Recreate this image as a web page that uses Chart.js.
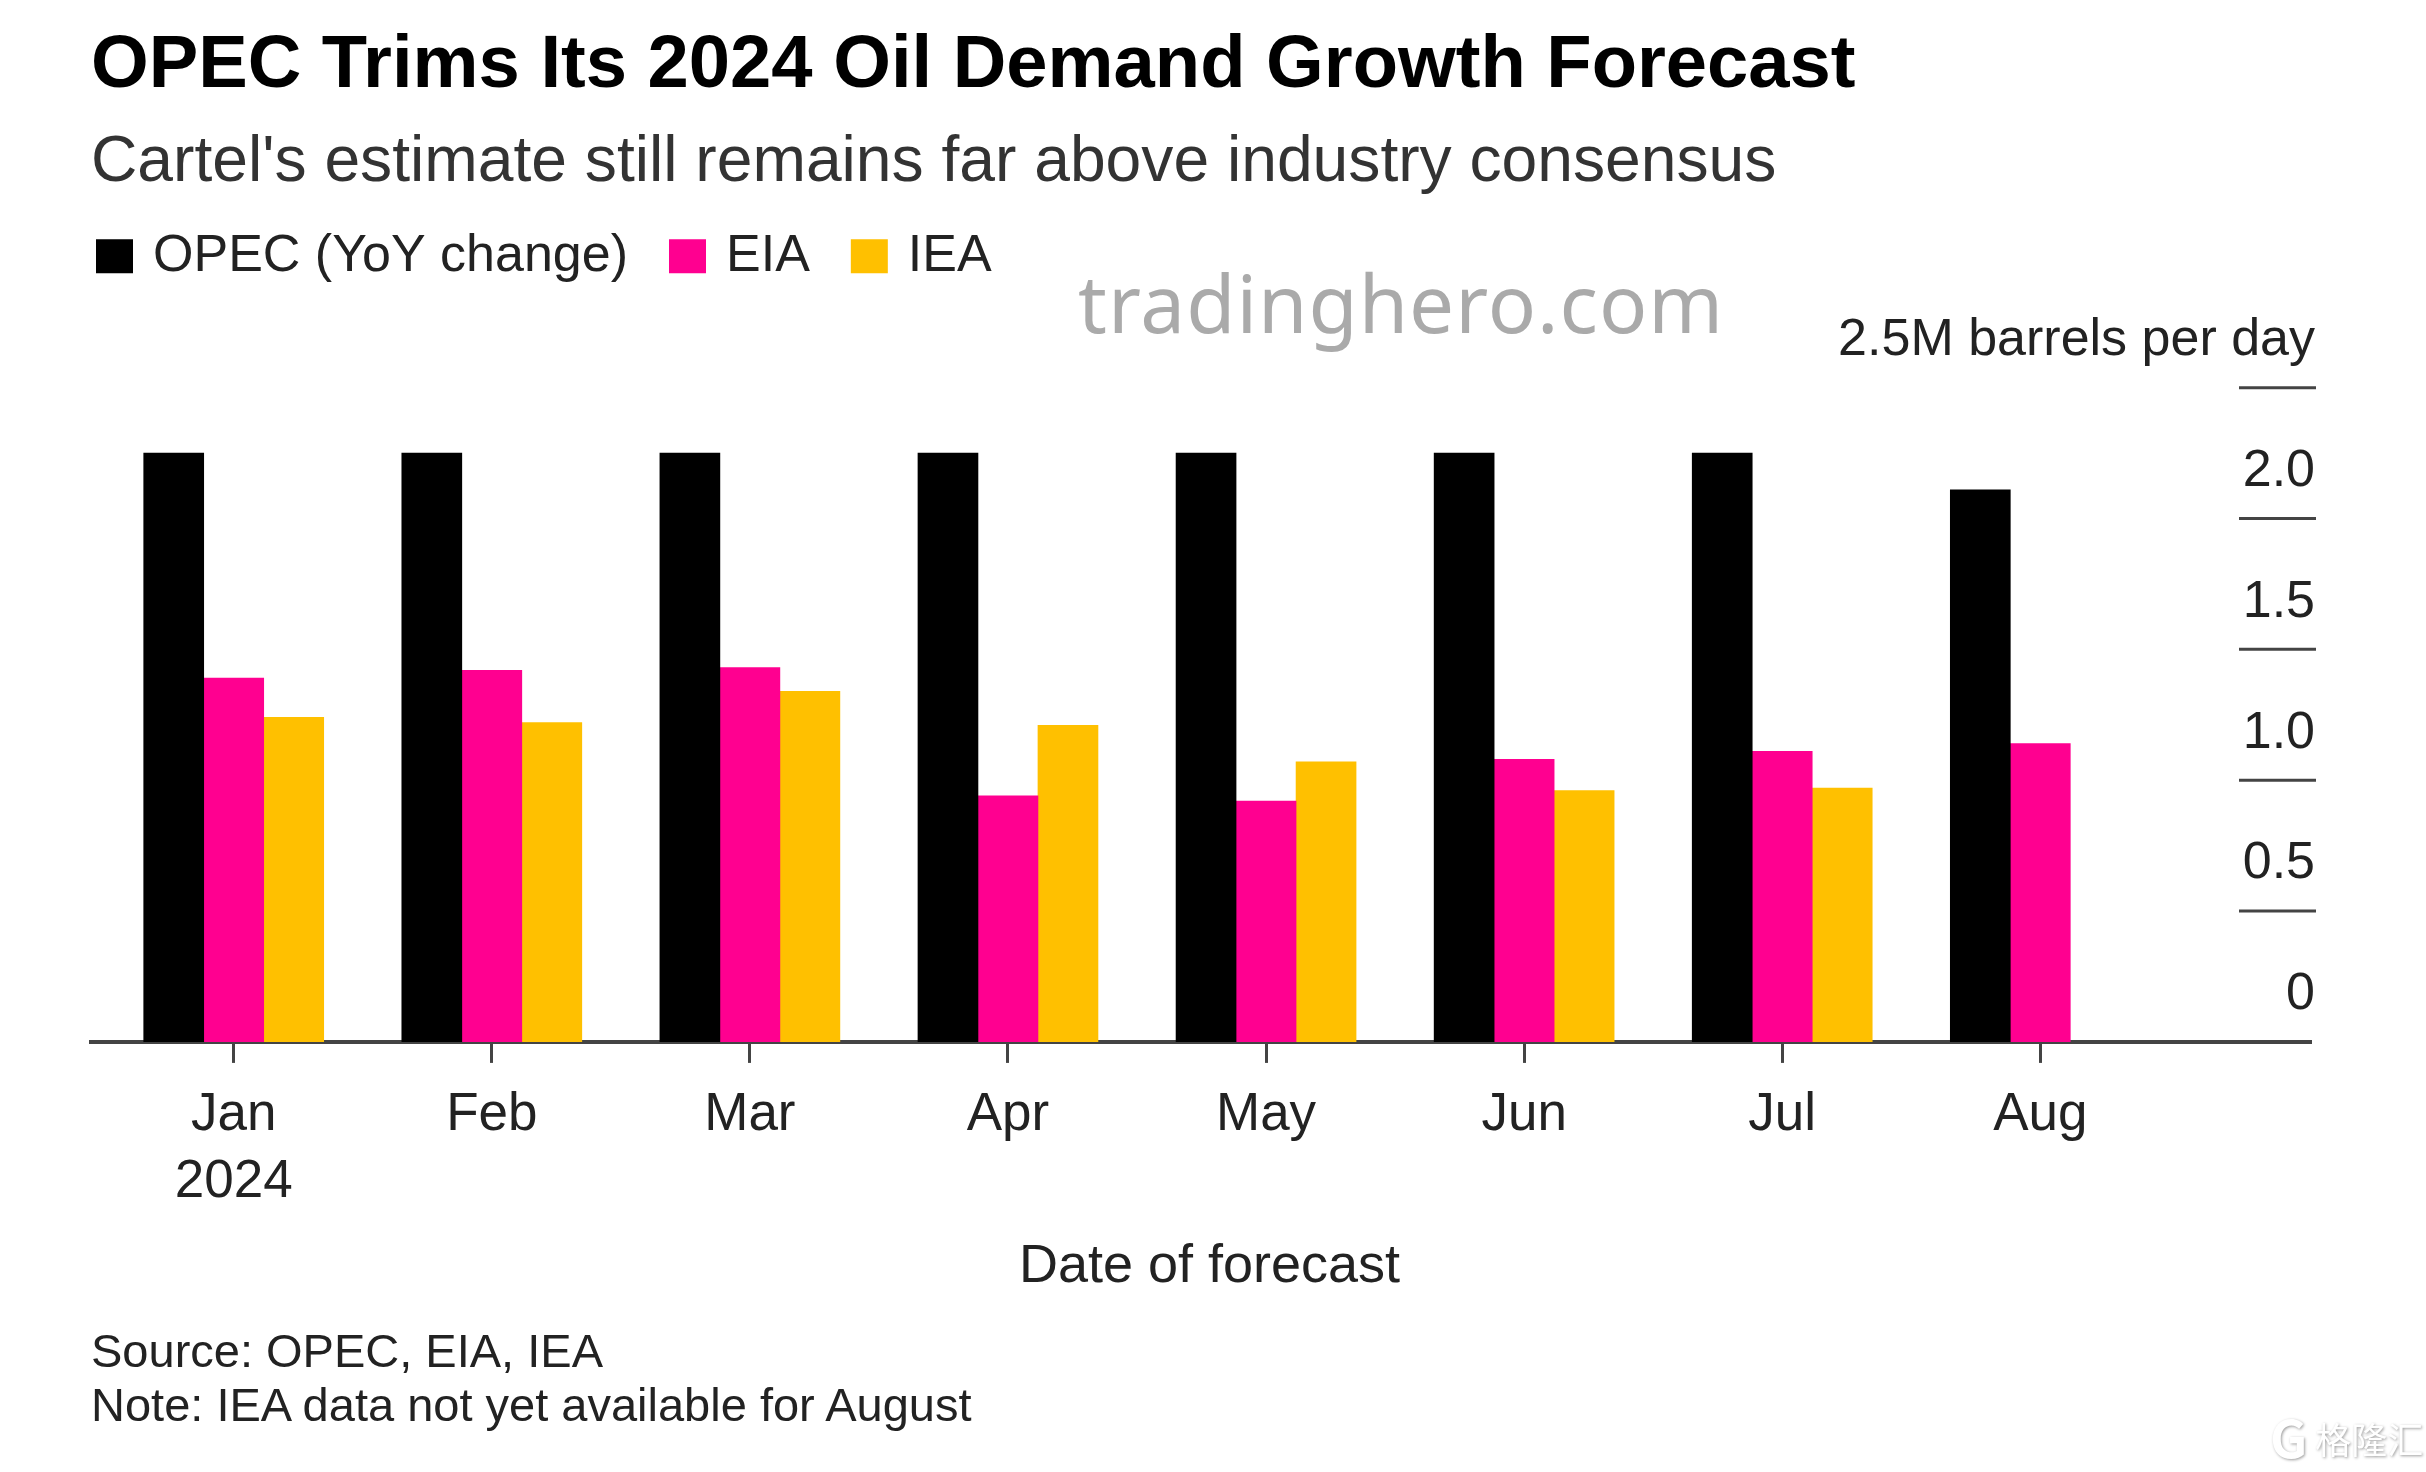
<!DOCTYPE html>
<html>
<head>
<meta charset="utf-8">
<title>OPEC Trims Its 2024 Oil Demand Growth Forecast</title>
<script src="https://cdn.jsdelivr.net/npm/chart.js@4/dist/chart.umd.min.js"></script>
<style>
  html, body { margin: 0; padding: 0; background: #fff; }
  #wrap { position: relative; width: 2426px; height: 1472px; overflow: hidden; font-family: "Liberation Sans", sans-serif; }
  #chart { position: absolute; left: 0; top: 0; }
  .abs { position: absolute; white-space: nowrap; }
  #watermark { left: 1078px; top: 247px; font: 80px "Noto Sans", sans-serif; color: #aaa; letter-spacing: 1px; }
  #source { left: 91px; top: 1324px; font-size: 47px; line-height: 54px; color: #222; }
  #logo { left: 2270px; top: 1410px; font: 36px "Noto Sans CJK SC", sans-serif; color: #fff; text-shadow: 1px 1px 3px rgba(0,0,0,.4); }
  #logo b { font-size: 52px; line-height: 52px; vertical-align: -4px; }
</style>
</head>
<body>
<div id="wrap">
  <canvas id="chart" width="2426" height="1472"></canvas>
  <div class="abs" id="watermark">tradinghero.com</div>
  <div class="abs" id="source">Source: OPEC, EIA, IEA<br>Note: IEA data not yet available for August</div>
  <div class="abs" id="logo"><b>G</b> 格隆汇</div>
</div>
<script>
  var months = [['Jan', '2024'], 'Feb', 'Mar', 'Apr', 'May', 'Jun', 'Jul', 'Aug'];
  var opec = [2.25, 2.25, 2.25, 2.25, 2.25, 2.25, 2.25, 2.11];
  var eia = [1.39, 1.42, 1.43, 0.94, 0.92, 1.08, 1.11, 1.14];
  var iea = [1.24, 1.22, 1.34, 1.21, 1.07, 0.96, 0.97, null];
  var yTickLabels = ['0', '0.5', '1.0', '1.5', '2.0', '2.5M barrels per day'];

  var FONT = '"Liberation Sans", sans-serif';
  var TEXT = '#222';
  var LINE = '#444';

  function points(values) {
    return values.map(function (v, i) { return { x: i, y: v }; });
  }

  // short rules over the y labels, bloomberg style
  var shortGrid = {
    id: 'shortGrid',
    afterDatasetsDraw: function (chart) {
      var y = chart.scales.y, ctx = chart.ctx;
      ctx.save();
      ctx.strokeStyle = LINE;
      ctx.lineWidth = 3;
      y.ticks.forEach(function (t) {
        if (t.value === 0) return;
        var py = y.getPixelForValue(t.value);
        ctx.beginPath();
        ctx.moveTo(2239, py);
        ctx.lineTo(2316, py);
        ctx.stroke();
      });
      ctx.restore();
    }
  };

  // legend: leave room under it and pull it back to the left margin
  var legendTweak = {
    id: 'legendTweak',
    beforeLayout: function (chart) {
      var legend = chart.legend;
      if (legend._tweaked) return;
      legend._tweaked = true;
      var fit = legend.fit;
      legend.fit = function () {
        fit.call(this);
        this.height += 95.5;
      };
    },
    afterLayout: function (chart) {
      chart.legend.left = 102 - chart.options.plugins.legend.labels.padding;
    }
  };

  new Chart(document.getElementById('chart').getContext('2d'), {
    type: 'bar',
    data: {
      datasets: [
        { label: 'OPEC (YoY change)', data: points(opec), backgroundColor: '#000000' },
        { label: 'EIA', data: points(eia), backgroundColor: '#ff0090' },
        { label: 'IEA', data: points(iea), backgroundColor: '#ffc000' }
      ]
    },
    plugins: [shortGrid, legendTweak],
    options: {
      responsive: false,
      animation: false,
      layout: { padding: { left: 91, right: 98, top: 24, bottom: 173.5 } },
      plugins: {
        tooltip: { enabled: false },
        title: {
          display: true,
          text: 'OPEC Trims Its 2024 Oil Demand Growth Forecast',
          align: 'start',
          color: '#000',
          font: { family: FONT, size: 74.2, weight: 'bold', lineHeight: 1.15 },
          padding: { top: 0, bottom: 17 }
        },
        subtitle: {
          display: true,
          text: "Cartel's estimate still remains far above industry consensus",
          align: 'start',
          color: '#333',
          font: { family: FONT, size: 64.2, weight: 'normal', lineHeight: 1.15 },
          padding: { top: 0, bottom: -17 }
        },
        legend: {
          display: true,
          position: 'top',
          align: 'start',
          labels: {
            // small box with a thick same-colour stroke: keeps the text closer to the square
            boxWidth: 25,
            boxHeight: 22,
            padding: 47,
            color: TEXT,
            font: { family: FONT, size: 52 },
            generateLabels: function (chart) {
              return Chart.defaults.plugins.legend.labels.generateLabels(chart).map(function (item) {
                item.lineWidth = 12;
                item.strokeStyle = item.fillStyle;
                return item;
              });
            }
          }
        }
      },
      scales: {
        x: {
          type: 'linear',
          offset: false,
          min: -0.553,
          max: 8.045,
          afterBuildTicks: function (scale) {
            scale.ticks = months.map(function (m, i) { return { value: i }; });
          },
          afterFit: function (scale) {
            // axis title sits a bit right of the plot centre
            if (scale._titleMoved) return;
            scale._titleMoved = true;
            var drawTitle = scale.drawTitle;
            scale.drawTitle = function () {
              this.ctx.save();
              this.ctx.translate(9, 0);
              drawTitle.call(this);
              this.ctx.restore();
            };
          },
          grid: { offset: false, drawOnChartArea: false, color: LINE, lineWidth: 3, tickLength: 21 },
          border: { color: LINE, width: 4 },
          ticks: {
            autoSkip: false,
            maxRotation: 0,
            padding: 19,
            color: TEXT,
            font: { family: FONT, size: 53, lineHeight: 1.264 },
            callback: function (v, i) { return months[i]; }
          },
          title: {
            display: true,
            text: 'Date of forecast',
            color: TEXT,
            font: { family: FONT, size: 54, lineHeight: 1.15 },
            padding: { top: 1.5, bottom: 0 }
          }
        },
        y: {
          position: 'right',
          min: 0,
          max: 2.5,
          grid: { display: false },
          border: { display: false },
          ticks: {
            stepSize: 0.5,
            mirror: true,
            padding: 5,
            labelOffset: -47,
            color: TEXT,
            font: { family: FONT, size: 52 },
            callback: function (v, i) { return yTickLabels[i]; }
          }
        }
      },
      datasets: { bar: { barThickness: 60 } }
    }
  });
</script>
</body>
</html>
